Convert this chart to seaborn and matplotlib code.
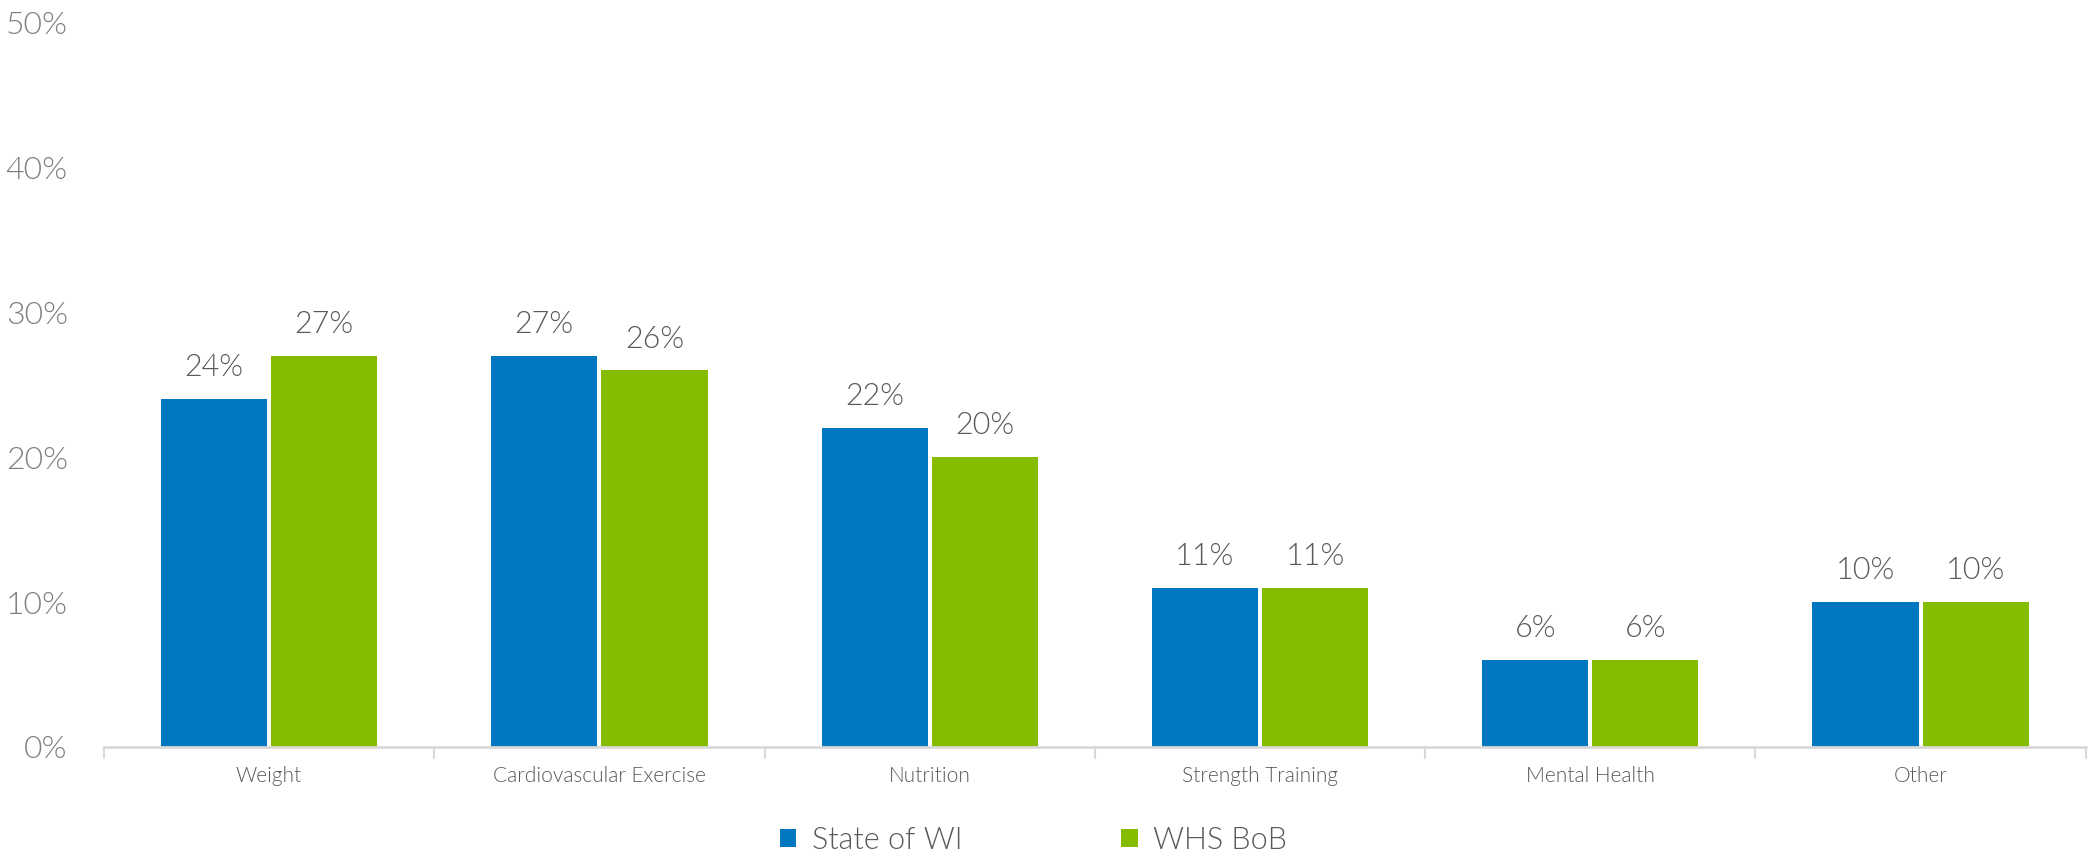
import matplotlib
matplotlib.use("Agg")
import matplotlib.pyplot as plt
import seaborn as sns
import pandas as pd
from matplotlib.patches import Patch

categories = ["Weight", "Cardiovascular Exercise", "Nutrition",
              "Strength Training", "Mental Health", "Other"]
state_wi = [24, 27, 22, 11, 6, 10]
whs_bob = [27, 26, 20, 11, 6, 10]
series_names = ["State of WI", "WHS BoB"]
y_ticks = [0, 10, 20, 30, 40, 50]
y_tick_labels = ["0%", "10%", "20%", "30%", "40%", "50%"]

colors = ["#0077C0", "#86BC00"]

df = pd.DataFrame({
    "category": categories * 2,
    "series": [series_names[0]] * len(categories) + [series_names[1]] * len(categories),
    "value": state_wi + whs_bob,
})

sns.set_theme(style="white")
plt.rcParams["font.family"] = ["Lato", "DejaVu Sans"]
LIGHT = 300  # Lato Light

fig = plt.figure(figsize=(20.92, 8.59), dpi=100)
ax = fig.add_axes([0.0497, 0.1304, 0.9473, 0.8436])

sns.barplot(data=df, x="category", y="value", hue="series", order=categories,
            hue_order=series_names, palette=colors, width=0.667, gap=0.036,
            saturation=1, edgecolor="none", legend=False, ax=ax)

for cont in ax.containers:
    ax.bar_label(cont, labels=[f"{v:.0f}%" for v in cont.datavalues],
                 padding=12, fontsize=22, color="#595959", fontweight=LIGHT)

ax.set_ylim(0, 50)
ax.set_xlim(-0.5, len(categories) - 0.5)
ax.set_yticks(y_ticks)
ax.set_yticklabels(y_tick_labels, fontsize=23, color="#7F7F7F", fontweight=LIGHT)
ax.tick_params(axis="y", length=0, pad=26)
ax.set_xticks(range(len(categories)))
ax.set_xticklabels(categories, fontsize=15, color="#595959", fontweight=LIGHT)
ax.tick_params(axis="x", length=0, pad=14)

# category separators below the baseline
for b in [i - 0.5 for i in range(len(categories) + 1)]:
    ax.plot([b, b], [0, -0.015], transform=ax.get_xaxis_transform(),
            color="#D9D9D9", lw=1.5, clip_on=False)
ax.plot([0, 1], [0, 0], transform=ax.transAxes, color="#D9D9D9", lw=2, clip_on=False)

ax.set_xlabel("")
ax.set_ylabel("")
for s in ax.spines.values():
    s.set_visible(False)
ax.grid(False)

handles = [Patch(facecolor=c, edgecolor="none") for c in colors]
fig.legend(handles, series_names, loc="center", bbox_to_anchor=(0.494, 0.022),
           ncol=2, frameon=False, handlelength=0.55, handleheight=0.55,
           handletextpad=0.5, columnspacing=5.2, labelcolor="#595959",
           prop={"family": ["Lato", "DejaVu Sans"], "weight": LIGHT, "size": 22})

fig.savefig("out.png", dpi=100, facecolor="white")
